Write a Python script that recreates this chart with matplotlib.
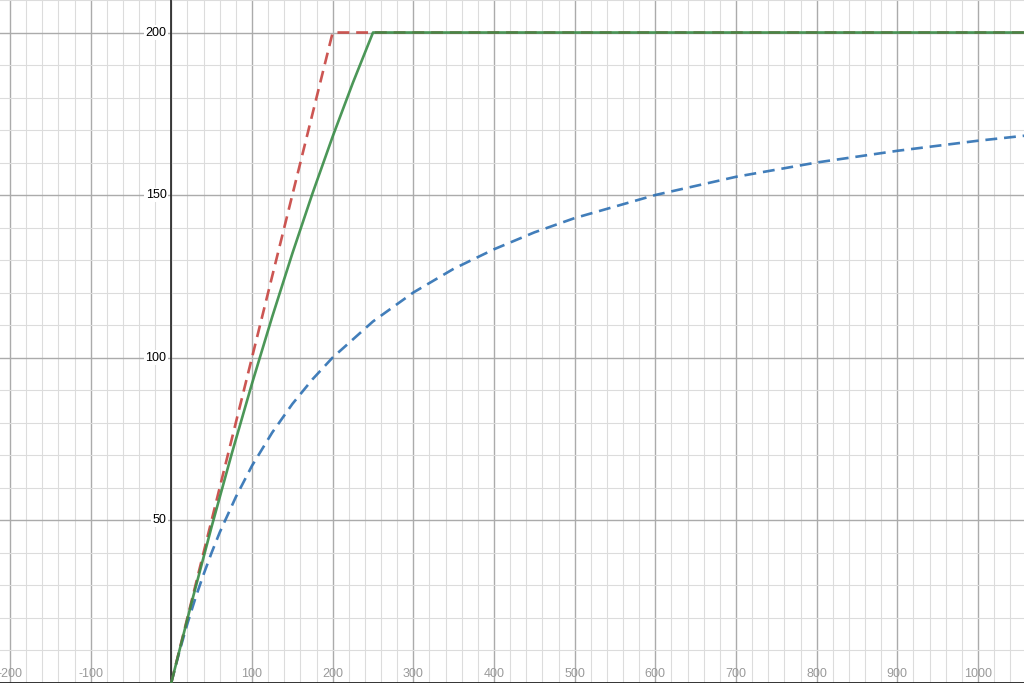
import numpy as np
import matplotlib.pyplot as plt
from matplotlib.transforms import Bbox

# values
blue_x = [0, 10, 20, 30, 40, 50, 60, 80, 100, 125, 150, 175, 200, 250, 300, 350,
          400, 450, 500, 600, 700, 800, 900, 1000, 1060]
blue_y = [0, 9.5, 18.2, 26.1, 33.3, 40, 46.2, 57.1, 66.7, 76.9, 85.7, 93.3, 100,
          111.1, 120, 127.3, 133.3, 138.5, 142.9, 150, 155.6, 160, 163.6, 166.7, 168.3]

red_x = [0, 200, 1060]
red_y = [0, 200, 200]

green_x = [0, 25, 50, 75, 100, 125, 150, 175, 200, 225, 250, 1060]
green_y = [0, 24.5, 48, 70.5, 92, 112.5, 132, 150.5, 168, 184.5, 200, 200]

x_labels = [-200, -100, 100, 200, 300, 400, 500, 600, 700, 800, 900, 1000]
y_labels = [50, 100, 150, 200]

plt.rcParams['font.family'] = ['Liberation Sans', 'DejaVu Sans']
plt.rcParams['savefig.bbox'] = 'standard'

fig = plt.figure(figsize=(10.24, 6.83), dpi=100)
ax = fig.add_axes([0, 0, 1, 1])

# grid
ax.set_xticks(np.arange(-200, 1100, 100))
ax.set_xticks(np.arange(-200, 1100, 20), minor=True)
ax.set_yticks(np.arange(0, 220, 50))
ax.set_yticks(np.arange(0, 220, 10), minor=True)
ax.grid(which='minor', color='#dcdcdc', linewidth=0.8)
ax.grid(which='major', color='#ababab', linewidth=1.0)
ax.tick_params(which='both', length=0, labelbottom=False, labelleft=False)
for s in ax.spines.values():
    s.set_visible(False)
ax.set_axisbelow(True)

# limits after the ticks so they are not widened
ax.set_xlim(-212.4, 1057)
ax.set_ylim(-0.15, 210)

ax.axvline(0, color='#222222', linewidth=1.2, zorder=2)
ax.axhline(0, color='#222222', linewidth=2.0, zorder=2)

# curves
ax.plot(blue_x, blue_y, color='#2d70b3', alpha=0.9, linewidth=1.9,
        linestyle=(0, (4.5, 2.6)), zorder=3)
ax.plot(red_x, red_y, color='#c74440', alpha=0.9, linewidth=1.9,
        linestyle=(0, (4.5, 2.6)), zorder=4)
ax.plot(green_x, green_y, color='#388c46', alpha=0.9, linewidth=1.9, zorder=5)

# labels
for v in y_labels:
    ax.annotate(str(v), xy=(0, v), xytext=(-3.5, 0), textcoords='offset points',
                ha='right', va='center', fontsize=9, color='#000000', zorder=6,
                annotation_clip=False,
                bbox=dict(boxstyle='square,pad=0.1', fc='white', ec='none'))
for v in x_labels:
    ax.annotate(str(v), xy=(v, 0), xytext=(0, 6.3), textcoords='offset points',
                ha='center', va='center', fontsize=9, color='#9a9a9a', zorder=6,
                annotation_clip=False)

fig.savefig('out.png', dpi=100, bbox_inches=Bbox([[0, 0], [10.24, 6.83]]))
